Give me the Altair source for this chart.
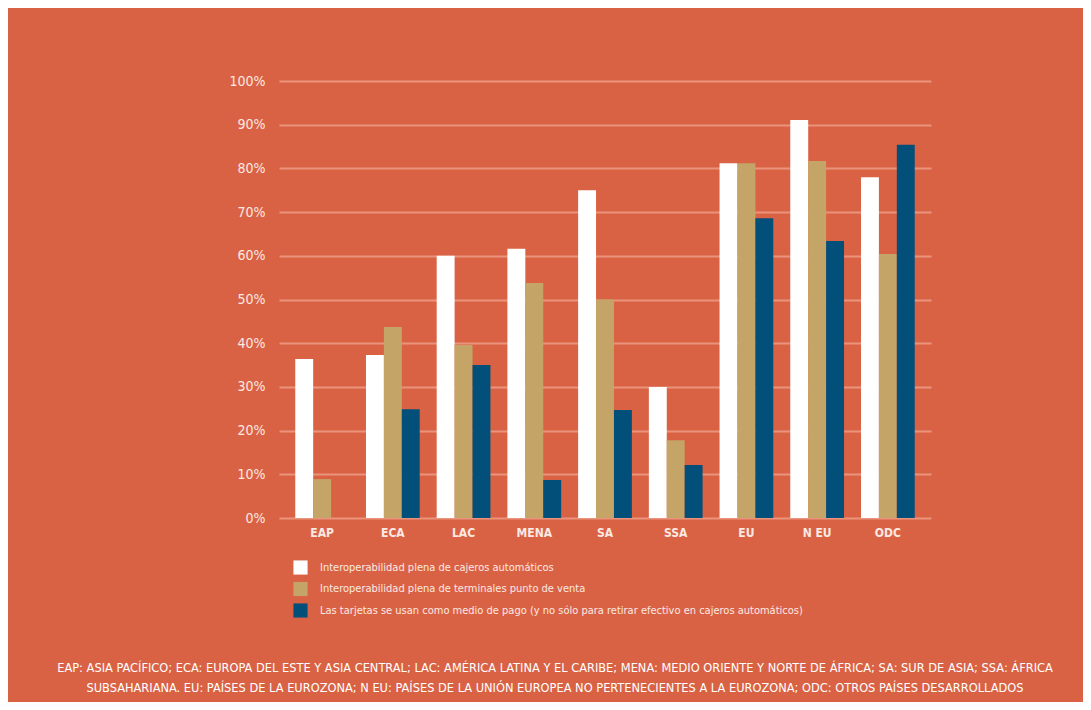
import altair as alt
import pandas as pd

regions = ["EAP", "ECA", "LAC", "MENA", "SA", "SSA", "EU", "N EU", "ODC"]
series = [
    "Interoperabilidad plena de cajeros automáticos",
    "Interoperabilidad plena de terminales punto de venta",
    "Las tarjetas se usan como medio de pago (y no sólo para retirar efectivo en cajeros automáticos)",
]
atm = [0.364, 0.373, 0.600, 0.616, 0.750, 0.300, 0.812, 0.911, 0.780]
pos = [0.089, 0.437, 0.396, 0.538, 0.500, 0.178, 0.812, 0.817, 0.604]
cards = [None, 0.249, 0.350, 0.087, 0.247, 0.121, 0.686, 0.634, 0.854]
colors = ["#FFFFFF", "#C4A567", "#02507A"]

footnote = [
    "EAP: ASIA PACÍFICO; ECA: EUROPA DEL ESTE Y ASIA CENTRAL; LAC: AMÉRICA LATINA Y EL CARIBE; MENA: MEDIO ORIENTE Y NORTE DE ÁFRICA; SA: SUR DE ASIA; SSA: ÁFRICA",
    "SUBSAHARIANA. EU: PAÍSES DE LA EUROZONA; N EU: PAÍSES DE LA UNIÓN EUROPEA NO PERTENECIENTES A LA EUROZONA; ODC: OTROS PAÍSES DESARROLLADOS",
]

rows = []
for name, vals in zip(series, [atm, pos, cards]):
    for r, v in zip(regions, vals):
        if v is not None:
            rows.append({"region": r, "serie": name, "valor": v})
df = pd.DataFrame(rows)

FONT = "DejaVu Sans Condensed, Roboto, sans-serif"
TXT = "#FBE9E3"
BG = "#DA6244"

bars = alt.Chart(df).mark_bar().encode(
    x=alt.X("region:N", sort=regions, title=None,
            scale=alt.Scale(paddingInner=0.24, paddingOuter=0.23),
            axis=alt.Axis(labelAngle=0, labelFont=FONT, labelFontSize=12, labelFontWeight="bold",
                          labelColor=TXT, domain=False, ticks=False, labelPadding=9)),
    xOffset=alt.XOffset("serie:N", sort=series, scale=alt.Scale(domain=series)),
    y=alt.Y("valor:Q", title=None,
            scale=alt.Scale(domain=[0, 1]),
            axis=alt.Axis(format="%", values=[i / 10 for i in range(11)], labelFont=FONT,
                          labelFontSize=14, labelColor=TXT, domain=False, ticks=False,
                          labelPadding=14, gridColor="#E9937D", gridWidth=2, gridOpacity=1)),
    color=alt.Color("serie:N", sort=series,
                    scale=alt.Scale(domain=series, range=colors),
                    legend=alt.Legend(title=None, orient="none", legendX=14, legendY=479,
                                      symbolType="square", symbolSize=200, symbolStrokeWidth=0,
                                      symbolOpacity=1, labelFont=FONT, labelFontSize=11,
                                      labelColor=TXT, rowPadding=6.5, padding=0, labelOffset=12,
                                      labelLimit=800)),
)

foot1 = alt.Chart(pd.DataFrame({"t": [footnote[0]]})).mark_text(
    font=FONT, fontSize=12.7, color="#FFFFFF", align="center", baseline="middle"
).encode(text="t:N", x=alt.value(276), y=alt.value(587))
foot2 = alt.Chart(pd.DataFrame({"t": [footnote[1]]})).mark_text(
    font=FONT, fontSize=12.7, color="#FFFFFF", align="center", baseline="middle"
).encode(text="t:N", x=alt.value(276), y=alt.value(607))

chart = alt.layer(bars, foot1, foot2).properties(
    width=652, height=437,
    padding={"left": 271, "top": 73, "right": 152, "bottom": 184},
    autosize=alt.AutoSizeParams(type="none"),
    background=BG,
).configure_view(stroke=None)

chart.save("out.html", embed_options={"renderer": "svg", "actions": False})
